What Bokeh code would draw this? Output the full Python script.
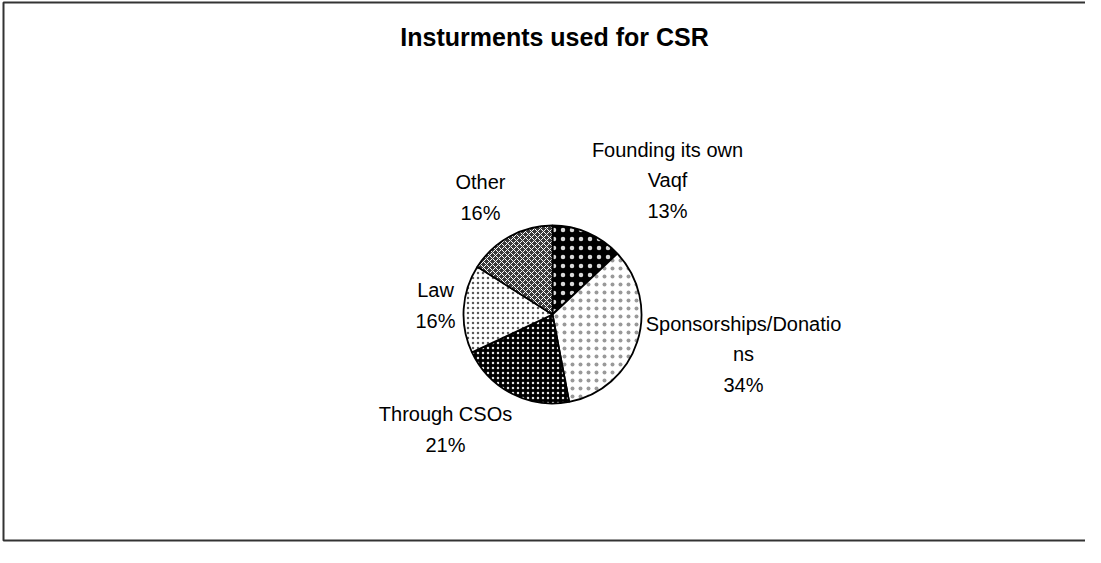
from bokeh.plotting import figure
from bokeh.models import ColumnDataSource, Range1d
from bokeh.core.properties import value
from bokeh.embed import file_html
from bokeh.resources import INLINE
import math

# ---- data ----
title = "Insturments used for CSR"
categories = ["Founding its own\nVaqf", "Sponsorships/Donatio\nns", "Through CSOs", "Law", "Other"]
values = [13, 34, 21, 16, 16]

# ---- styles (not data) ----
fills = ["#000000", "#ffffff", "#000000", "#ffffff", "#3a3a3a"]
hatch_colors = ["#ffffff", "#000000", "#ffffff", "#000000", "#ffffff"]
hatch_patterns = ["dot", "dot", "dot", "dot", "diagonal_cross"]
hatch_scales = [9, 8, 5, 5, 6]
hatch_weights = [0.5, 0.5, 0.5, 0.5, 1.0]
hatch_alphas = [0.85, 0.4, 0.9, 0.65, 1.0]

W, H = 1085, 547
def py(y):
    return H - y

# label block centres (page coordinates)
label_pos = [(667, 180), (743, 354), (445, 429), (435, 305), (480, 197)]

p = figure(width=W, height=H, output_backend="svg", toolbar_location=None,
           x_range=Range1d(0, W), y_range=Range1d(0, H), min_border=0)
p.axis.visible = False
p.grid.visible = False
p.outline_line_color = None
p.background_fill_color = "white"
p.border_fill_color = "white"

# chart area border
p.quad(left=[3], right=[1110], top=[py(2)], bottom=[py(540)], fill_color=None,
       line_color="#333333", line_width=2)

total = sum(values)
starts, ends = [], []
cum = 0
for v in values:
    starts.append(math.pi / 2 - 2 * math.pi * cum / total)
    cum += v
    ends.append(math.pi / 2 - 2 * math.pi * cum / total)

cx, cy = 552, py(314)
src = ColumnDataSource(dict(
    x=[cx] * len(values), y=[cy] * len(values), start=starts, end=ends,
    fill=fills, hc=hatch_colors, hp=hatch_patterns, hs=hatch_scales, hw=hatch_weights,
    ha=hatch_alphas))
p.wedge(x="x", y="y", radius=89, radius_units="screen", start_angle="start", end_angle="end",
        direction="clock", fill_color="fill", hatch_color="hc", hatch_pattern="hp",
        hatch_scale="hs", hatch_weight="hw", hatch_alpha="ha",
        line_color="black", line_width=1.8, source=src)

labels = [f"{c}\n{round(100 * v / total)}%" for c, v in zip(categories, values)]
lsrc = ColumnDataSource(dict(x=[a for a, b in label_pos], y=[py(b) for a, b in label_pos], t=labels))
p.text(x="x", y="y", text="t", source=lsrc, text_align="center", text_baseline="middle",
       text_font=value("Liberation Sans"), text_font_size="20px", text_color="black",
       text_line_height=1.4)

p.text(x=[554], y=[py(36)], text=[title], text_align="center", text_baseline="middle",
       text_font=value("Liberation Sans"), text_font_size="25px", text_font_style="bold",
       text_color="black")

open("out.html", "w").write(file_html(p, INLINE))
